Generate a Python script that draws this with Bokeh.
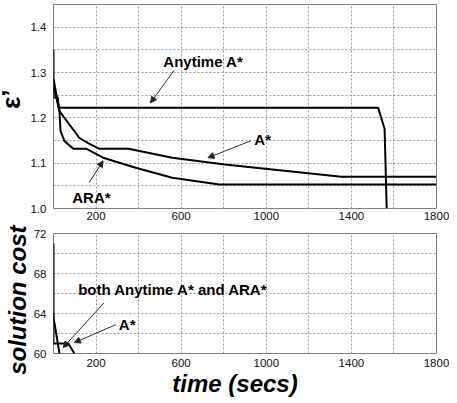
from bokeh.plotting import figure
from bokeh.models import Range1d, FixedTicker, Arrow, NormalHead, PrintfTickFormatter
from bokeh.layouts import column
from bokeh.core.properties import value
from bokeh.embed import file_html
from bokeh.resources import INLINE

# ---------------- data ----------------
# top panel: epsilon' versus time (secs)
anytime_t = [0, 0, 20, 25, 1526, 1556, 1566]
anytime_eps = [1.35, 1.245, 1.245, 1.222, 1.222, 1.176, 1.0]

astar_t = [0, 28, 121, 167, 214, 353, 558, 805, 1353, 1800]
astar_eps = [1.27, 1.215, 1.156, 1.143, 1.132, 1.132, 1.112, 1.097, 1.070, 1.070]

ara_t = [0, 28, 33, 51, 93, 153, 233, 386, 558, 780, 1800]
ara_eps = [1.286, 1.215, 1.171, 1.149, 1.132, 1.132, 1.112, 1.090, 1.068, 1.053, 1.053]

# bottom panel: solution cost versus time (secs)
both_t = [0, 0, 5, 28]
both_cost = [71, 63.5, 63, 60]

astar_cost_t = [0, 0, 70, 98]
astar_cost = [64, 61, 61, 60]

# axes
x_labels = [200, 600, 1000, 1400, 1800]
x_grid = [200, 400, 600, 800, 1000, 1200, 1400, 1600]
top_y_labels = [1.0, 1.1, 1.2, 1.3, 1.4]
top_y_grid = [1.05, 1.1, 1.15, 1.2, 1.25, 1.3, 1.35, 1.4]
bot_y_labels = [60, 64, 68, 72]
bot_y_grid = [62, 64, 66, 68, 70]

# annotations (text position, arrow start, arrow end)
top_notes = [
    ("Anytime A*", 516, 1.325, (567, 1.305), (456, 1.233)),
    ("A*", 944, 1.152, (926, 1.149), (726, 1.112)),
    ("ARA*", 88, 1.025, (167, 1.057), (233, 1.105)),
]
bot_notes = [
    ("both Anytime A* and ARA*", 116, 66.45, (237, 65.06), (46, 60.6)),
    ("A*", 307, 62.9, (293, 62.88), (98, 61.09)),
]

FONT = "Liberation Sans"


def style(p, ylab, ygrid):
    p.outline_line_color = "#808080"
    p.outline_line_width = 1
    p.xaxis.ticker = FixedTicker(ticks=x_labels)
    p.yaxis.ticker = FixedTicker(ticks=ylab)
    p.xgrid.ticker = FixedTicker(ticks=x_grid)
    p.ygrid.ticker = FixedTicker(ticks=ygrid)
    for g in (p.xgrid, p.ygrid):
        g.grid_line_color = "#9a9a9a"
        g.grid_line_dash = "2 2"
        g.grid_line_width = 1
    for ax in p.axis:
        ax.axis_line_color = None
        ax.major_tick_line_color = None
        ax.minor_tick_line_color = None
        ax.major_tick_out = 0
        ax.major_tick_in = 0
        ax.major_label_text_font = FONT
        ax.major_label_text_font_size = "11.5px"
        ax.major_label_text_color = "#111111"
    p.xaxis.major_label_standoff = 5
    p.yaxis.major_label_standoff = 7


def notes(p, items):
    for txt, tx, ty, (x0, y0), (x1, y1) in items:
        p.text(x=[tx], y=[ty], text=[txt], text_font=value(FONT),
               text_font_style="bold", text_font_size="15px",
               text_color="black", text_baseline="alphabetic", text_align="left")
        p.add_layout(Arrow(end=NormalHead(size=6, fill_color="#222222", line_color="#222222", line_width=1),
                           x_start=x0, y_start=y0, x_end=x1, y_end=y1,
                           line_color="#333333", line_width=1))


p1 = figure(width=457, height=220, output_backend="svg", toolbar_location=None,
            x_range=Range1d(0, 1800), y_range=Range1d(1.0, 1.45),
            min_border_left=57, min_border_right=13, min_border_top=0, min_border_bottom=16)
style(p1, top_y_labels, top_y_grid)
p1.xaxis.major_label_standoff = 3
p1.yaxis.formatter = PrintfTickFormatter(format="%.1f")
p1.yaxis.axis_label = "\u00a0\u00a0ε’"
p1.yaxis.axis_label_text_font = FONT
p1.yaxis.axis_label_text_font_style = "bold"
p1.yaxis.axis_label_text_font_size = "26px"
p1.yaxis.axis_label_standoff = 2
p1.yaxis.axis_label_text_color = "black"

for xs, ys in ((anytime_t, anytime_eps), (astar_t, astar_eps), (ara_t, ara_eps)):
    p1.line(xs, ys, line_color="black", line_width=2)
notes(p1, top_notes)

p2 = figure(width=457, height=185, output_backend="svg", toolbar_location=None,
            x_range=Range1d(0, 1800), y_range=Range1d(60, 72),
            min_border_left=57, min_border_right=13, min_border_top=19, min_border_bottom=45,
            margin=(-10, 0, 0, 0))
p2.border_fill_color = None
style(p2, bot_y_labels, bot_y_grid)
p2.yaxis.axis_label = "solution cost\u00a0\u00a0"
p2.yaxis.axis_label_text_font = FONT
p2.yaxis.axis_label_text_font_style = "bold italic"
p2.yaxis.axis_label_text_font_size = "24px"
p2.yaxis.axis_label_standoff = 0
p2.yaxis.axis_label_text_color = "black"
p2.xaxis.axis_label = "time (secs)\u00a0\u00a0\u00a0"
p2.xaxis.axis_label_text_font = FONT
p2.xaxis.axis_label_text_font_style = "bold italic"
p2.xaxis.axis_label_text_font_size = "24px"
p2.xaxis.axis_label_standoff = 0
p2.xaxis.axis_label_text_color = "black"

for xs, ys in ((both_t, both_cost), (astar_cost_t, astar_cost)):
    p2.line(xs, ys, line_color="black", line_width=2)
notes(p2, bot_notes)

layout = column(p1, p2, spacing=0, margin=(4, -8, -10, -8))

open("out.html", "w").write(file_html(layout, INLINE))
